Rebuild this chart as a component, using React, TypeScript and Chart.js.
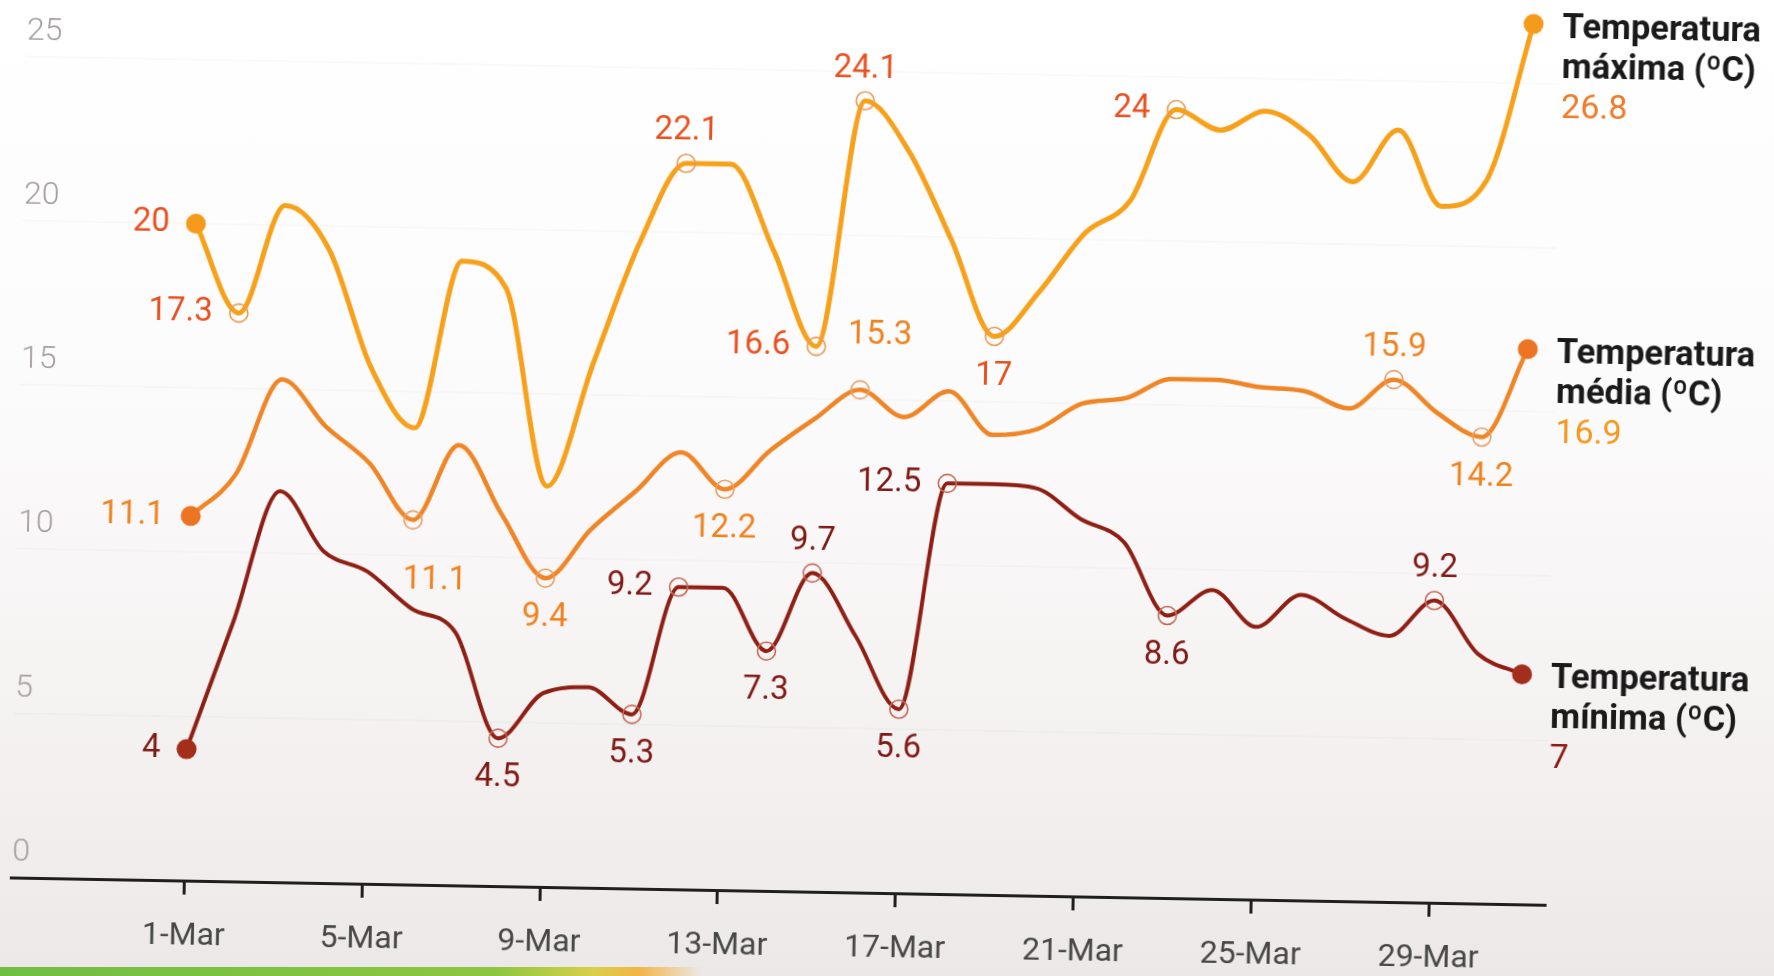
import React, { useEffect, useRef } from "react";
import { Chart, registerables } from "chart.js";

Chart.register(...registerables);

// ---------- DATA ----------
const categories = [
  "1-Mar", "2-Mar", "3-Mar", "4-Mar", "5-Mar", "6-Mar", "7-Mar", "8-Mar", "9-Mar", "10-Mar",
  "11-Mar", "12-Mar", "13-Mar", "14-Mar", "15-Mar", "16-Mar", "17-Mar", "18-Mar", "19-Mar", "20-Mar",
  "21-Mar", "22-Mar", "23-Mar", "24-Mar", "25-Mar", "26-Mar", "27-Mar", "28-Mar", "29-Mar", "30-Mar", "31-Mar",
];
const xTickLabels = ["1-Mar", "5-Mar", "9-Mar", "13-Mar", "17-Mar", "21-Mar", "25-Mar", "29-Mar"];
const yTicks = [0, 5, 10, 15, 20, 25];

const tempMax = [20, 17.3, 20.6, 19.3, 15.7, 13.9, 19.0, 18.2, 12.2, 16.0, 19.7, 22.1, 22.1, 19.5, 16.6, 24.1,
  22.6, 19.9, 17, 18.4, 20.2, 21.2, 24, 23.4, 24.0, 23.3, 21.9, 23.5, 21.2, 22.0, 26.8];
const tempMedia = [11.1, 12.4, 15.3, 13.9, 12.8, 11.1, 13.4, 11.3, 9.4, 10.9, 12.1, 13.3, 12.2, 13.4, 14.4, 15.3,
  14.5, 15.3, 14.0, 14.2, 15.0, 15.2, 15.8, 15.8, 15.6, 15.5, 15.0, 15.9, 14.9, 14.2, 16.9];
const tempMin = [4, 7.9, 11.9, 10.1, 9.5, 8.4, 7.7, 4.5, 5.9, 6.1, 5.3, 9.2, 9.2, 7.3, 9.7, 7.8,
  5.6, 12.5, 12.5, 12.4, 11.5, 10.8, 8.6, 9.4, 8.3, 9.3, 8.6, 8.1, 9.2, 7.6, 7];

const seriesTitles = [
  ["Temperatura", "máxima (ºC)"],
  ["Temperatura", "média (ºC)"],
  ["Temperatura", "mínima (ºC)"],
];

// labelled points (index -> placement)
const maxLabelled: Record<number, string> = { 0: "left", 1: "left", 11: "above", 14: "left", 15: "above", 18: "below", 22: "left" };
const mediaLabelled: Record<number, string> = { 0: "left", 5: "belowRight", 8: "below", 12: "below", 15: "aboveRight", 27: "above", 29: "below" };
const minLabelled: Record<number, string> = { 0: "left", 7: "below", 10: "below", 11: "left", 13: "below", 14: "above", 16: "below", 17: "left", 22: "below", 28: "above" };

// ---------- STYLE ----------
const PLACE: Record<string, { dx: number; dy: number; align: CanvasTextAlign }> = {
  left: { dx: -26, dy: 0, align: "right" },
  above: { dx: 0, dy: -32, align: "center" },
  below: { dx: 0, dy: 40, align: "center" },
  belowRight: { dx: 23, dy: 60, align: "center" },
  aboveRight: { dx: 19, dy: -55, align: "center" },
};

const LINE_COLORS = ["#F7A11B", "#F08526", "#8E1F15"];
const END_COLORS = ["#F59B1C", "#EC7423", "#A32E1B"];
const RING_COLORS = ["#E89B55", "#E6A065", "#C56A58"];
const LABEL_COLORS = ["#E9501F", "#F0821E", "#7F1A15"];
const VALUE_COLORS = ["#F07A28", "#F5981F", "#8E1A14"];
const LINE_WIDTHS = [5, 4.5, 4];
const FONT = "Roboto, 'Noto Sans', sans-serif";

const pointLabelsPlugin = {
  id: "pointLabels",
  afterDatasetsDraw(chart: any) {
    const ctx = chart.ctx;
    const maps = [maxLabelled, mediaLabelled, minLabelled];
    chart.data.datasets.forEach((ds: any, i: number) => {
      const meta = chart.getDatasetMeta(i);
      const m = maps[i];
      ctx.save();
      ctx.font = `400 33px ${FONT}`;
      ctx.fillStyle = LABEL_COLORS[i];
      ctx.textBaseline = "middle";
      Object.keys(m).forEach((k) => {
        const idx = Number(k);
        const el = meta.data[idx];
        const p = PLACE[m[idx]];
        ctx.textAlign = p.align;
        ctx.fillText(String(ds.data[idx].y), el.x + p.dx, el.y + p.dy);
      });
      ctx.restore();
    });
  },
};

const endLabelsPlugin = {
  id: "endLabels",
  afterDatasetsDraw(chart: any) {
    const ctx = chart.ctx;
    chart.data.datasets.forEach((ds: any, i: number) => {
      const meta = chart.getDatasetMeta(i);
      const last = meta.data.length - 1;
      const el = meta.data[last];
      const x = el.x + 29;
      const y = el.y;
      ctx.save();
      ctx.textAlign = "left";
      ctx.textBaseline = "alphabetic";
      ctx.font = `700 34.5px ${FONT}`;
      ctx.fillStyle = "#1a1a1a";
      ctx.fillText(seriesTitles[i][0], x, y + 13);
      ctx.fillText(seriesTitles[i][1], x, y + 53);
      ctx.font = `400 34px ${FONT}`;
      ctx.fillStyle = VALUE_COLORS[i];
      ctx.fillText(String(ds.data[last].y), x, y + 93);
      ctx.restore();
    });
  },
};

function makeDataset(values: number[], labelled: Record<number, string>, i: number) {
  const last = values.length - 1;
  const isEnd = (idx: number) => idx === 0 || idx === last;
  const isRing = (idx: number) => !isEnd(idx) && labelled[idx] !== undefined;
  return {
    label: seriesTitles[i].join(" "),
    data: values.map((v, k) => ({ x: k + 1, y: v })),
    borderColor: LINE_COLORS[i],
    borderWidth: LINE_WIDTHS[i],
    cubicInterpolationMode: "monotone" as const,
    clip: false as const,
    pointRadius: (c: any) => (isEnd(c.dataIndex) ? 10 : isRing(c.dataIndex) ? 9 : 0),
    pointBackgroundColor: (c: any) => (isEnd(c.dataIndex) ? END_COLORS[i] : "rgba(0,0,0,0)"),
    pointBorderColor: (c: any) => (isEnd(c.dataIndex) ? END_COLORS[i] : RING_COLORS[i]),
    pointBorderWidth: (c: any) => (isEnd(c.dataIndex) ? 0 : 1.6),
    pointHoverRadius: 0,
  };
}

export default function App() {
  const ref = useRef<HTMLCanvasElement | null>(null);

  useEffect(() => {
    if (!ref.current) return;
    const chart = new Chart(ref.current, {
      type: "line",
      data: {
        datasets: [
          makeDataset(tempMax, maxLabelled, 0),
          makeDataset(tempMedia, mediaLabelled, 1),
          makeDataset(tempMin, minLabelled, 2),
        ] as any,
      },
      options: {
        animation: false,
        responsive: false,
        maintainAspectRatio: false,
        events: [],
        layout: { padding: { top: 2, right: 222, left: 0, bottom: 0 } },
        plugins: { legend: { display: false }, tooltip: { enabled: false } },
        scales: {
          x: {
            type: "linear",
            min: -2.9,
            max: 31.6,
            afterBuildTicks: (s: any) => {
              s.ticks = xTickLabels.map((l) => ({ value: categories.indexOf(l) + 1 }));
            },
            afterFit: (s: any) => {
              s.height = 79;
              s.paddingLeft = 0;
              s.paddingRight = 0;
            },
            border: { display: true, color: "#1f1f1f", width: 3 },
            grid: { drawOnChartArea: false, drawTicks: true, tickLength: 14, color: "#1f1f1f", lineWidth: 3 },
            ticks: {
              autoSkip: false,
              maxRotation: 0,
              padding: 23,
              color: "#474747",
              font: { family: FONT, size: 32, weight: "400" as any },
              callback: (v: any) => categories[Number(v) - 1],
            },
          },
          y: {
            type: "linear",
            min: 0,
            max: 27,
            afterBuildTicks: (s: any) => {
              s.ticks = yTicks.map((v) => ({ value: v }));
            },
            afterFit: (s: any) => {
              s.width = 18;
              s.paddingTop = 0;
              s.paddingBottom = 0;
            },
            border: { display: false },
            grid: { color: "rgba(110,100,100,0.035)", lineWidth: 2, drawTicks: false },
            ticks: {
              mirror: true,
              padding: 1,
              labelOffset: -25,
              color: "#a49ea0",
              font: { family: FONT, size: 32, weight: "300" as any },
            },
          },
        },
      },
      plugins: [pointLabelsPlugin, endLabelsPlugin],
    });
    return () => chart.destroy();
  }, []);

  return (
    <div
      style={{
        position: "fixed",
        inset: 0,
        overflow: "hidden",
        background: "linear-gradient(to bottom, #ffffff 0%, #fcfbfb 40%, #f2eeee 85%, #ece8e8 100%)",
      }}
    >
      <div
        style={{
          position: "absolute",
          left: 0,
          top: 0,
          width: 1774,
          height: 976,
          transform: "translateY(-4px) rotate(1.02deg)",
          transformOrigin: "887px 488px",
        }}
      >
        <canvas ref={ref} width={1774} height={976} style={{ display: "block", width: 1774, height: 976 }} />
      </div>
      <div
        style={{
          position: "absolute",
          left: 0,
          bottom: 0,
          width: 900,
          height: 9,
          background: "linear-gradient(to right, #6fbe44 0%, #8cc640 55%, #d9cf4a 66%, #f2b548 71%, rgba(255,255,255,0) 78%)",
        }}
      />
    </div>
  );
}
